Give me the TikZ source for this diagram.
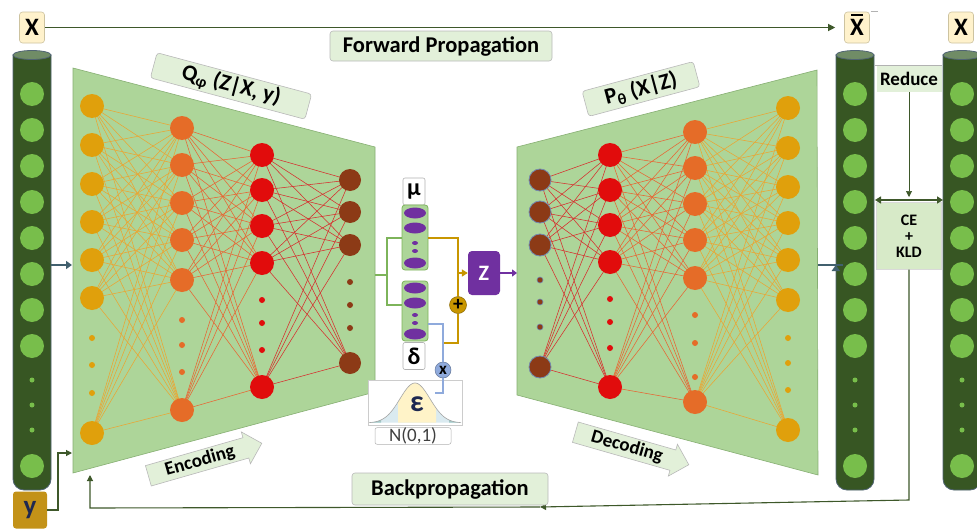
\documentclass[tikz,border=0pt]{standalone}
\usepackage{fontspec}
\setmainfont{Carlito}
\usetikzlibrary{shapes.arrows,shapes.geometric,arrows.meta,calc}
\pgfdeclarelayer{back}
\pgfdeclarelayer{mid}
\pgfsetlayers{back,mid,main}

\definecolor{trapfill}{RGB}{173,213,153}
\definecolor{trapline}{RGB}{135,175,115}
\definecolor{paneln}{RGB}{226,240,217}
\definecolor{cream}{RGB}{255,242,204}
\definecolor{creamline}{RGB}{205,195,160}
\definecolor{cyldark}{RGB}{55,86,35}
\definecolor{cyledge}{RGB}{80,100,115}
\definecolor{cyltop}{RGB}{112,140,102}
\definecolor{ballg}{RGB}{120,190,75}
\definecolor{goldn}{RGB}{224,160,12}
\definecolor{orangen}{RGB}{229,108,40}
\definecolor{redn}{RGB}{225,12,12}
\definecolor{brownn}{RGB}{140,58,22}
\definecolor{purplez}{RGB}{112,48,160}
\definecolor{linkgreen}{RGB}{125,180,90}
\definecolor{linkgold}{RGB}{200,150,0}
\definecolor{linkblue}{RGB}{143,170,220}
\definecolor{olivel}{RGB}{62,88,42}
\definecolor{arrowteal}{RGB}{65,96,110}
\definecolor{yfill}{RGB}{195,146,24}
\definecolor{navyt}{RGB}{30,40,80}
\definecolor{bellside}{RGB}{218,234,240}
\definecolor{belltail}{RGB}{160,200,198}
\definecolor{bellmid}{RGB}{255,243,200}
\definecolor{wireA}{RGB}{235,165,50}
\definecolor{wireB}{RGB}{232,100,50}
\definecolor{wireC}{RGB}{215,45,45}
\definecolor{cefill}{RGB}{215,234,200}

\tikzset{
  neu/.style={circle, inner sep=0pt, minimum size=24pt},
  dotn/.style={circle, inner sep=0pt, minimum size=6pt},
  ball/.style={circle, inner sep=0pt, minimum size=24pt, fill=ballg},
  balldot/.style={circle, inner sep=0pt, minimum size=5pt, fill=ballg},
  panel/.style={rounded corners=3pt, fill=paneln, draw=gray!55, line width=0.6pt,
    font=\bfseries\fontsize{22.5}{24}\selectfont, inner sep=0pt},
  letter/.style={rounded corners=3pt, fill=cream, draw=creamline, line width=0.6pt,
    minimum width=25pt, minimum height=31pt, inner sep=0pt,
    font=\bfseries\fontsize{25}{28}\selectfont},
  flow/.style={single arrow, fill=paneln, draw=gray!55, line width=0.6pt,
    single arrow head extend=6pt, minimum height=118pt, inner sep=2pt,
    font=\bfseries\fontsize{19}{22}\selectfont},
  wa/.style={wireA, line width=0.55pt},
  wb/.style={wireB, line width=0.55pt},
  wc/.style={wireC, line width=0.55pt},
  fw/.style={olivel, line width=1.1pt},
  thick arrow/.style={arrowteal, line width=2.6pt, -{Triangle[length=6pt,width=8pt]}},
  greekbox/.style={rounded corners=2pt, fill=white, draw=gray!60, line width=0.6pt,
    minimum width=22pt, minimum height=27pt, inner sep=0pt,
    font=\bfseries\fontsize{24}{24}\selectfont},
  stack/.style={rounded corners=3pt, fill=trapfill, draw=linkgreen, line width=0.8pt,
    minimum width=26pt, inner sep=0pt},
  pell/.style={ellipse, fill=purplez, minimum width=22pt, minimum height=11pt, inner sep=0pt},
  pdot/.style={ellipse, fill=purplez, minimum width=6pt, minimum height=4pt, inner sep=0pt},
  glink/.style={linkgreen, line width=2pt},
  gline/.style={linkgold, line width=2pt},
  bline/.style={linkblue, line width=1.6pt},
}

% one storage column: dark tube with a row of green cells
\newcommand\tube[2]{%
  \draw[fill=cyldark, draw=cyledge, line width=0.8pt]
    (#1-19,55) [rounded corners=11pt] -- (#1-19,490) -- (#1+19,490) [sharp corners] -- (#1+19,55) -- cycle;
  \draw[fill=cyltop, draw=cyledge, line width=0.8pt] (#1,55) ellipse [x radius=19pt, y radius=4.5pt];
  \foreach \yy [count=\k] in {94,130,166,202,238,274,310,346,466}
    \node[ball] (#2-\k) at (#1,\yy) {};
  \foreach \yy [count=\k] in {380,405,430}
    \node[balldot] (#2-d\k) at (#1,\yy) {};
}

\begin{document}
\begin{tikzpicture}[x=1pt,y=-1pt]
\useasboundingbox (0,0) rectangle (977,530);

% ---------- encoder and decoder panels ----------
\begin{pgfonlayer}{back}
  \fill[white] (0,0) rectangle (977,530);
  \draw[fill=trapfill, draw=trapline, line width=0.6pt]
    (73,68) -- (375,147) -- (375,392) -- (73,473) -- cycle;
  \draw[fill=trapfill, draw=trapline, line width=0.6pt]
    (517,147) -- (817,70) -- (818,475) -- (517,395) -- cycle;
\end{pgfonlayer}

% ---------- encoder layers ----------
\foreach \y [count=\k] in {106,145,184,222,260,298,433} \node[neu, fill=goldn] (a\k) at (92,\y) {};
\foreach \y [count=\k] in {338,365,393} \node[dotn, fill=goldn] (ad\k) at (92,\y) {};
\foreach \y [count=\k] in {128,165,203,240,280,410} \node[neu, fill=orangen] (b\k) at (182,\y) {};
\foreach \y [count=\k] in {320,345,372} \node[dotn, fill=orangen] (bd\k) at (182,\y) {};
\foreach \y [count=\k] in {155,190,226,263,387} \node[neu, fill=redn] (c\k) at (262,\y) {};
\foreach \y [count=\k] in {300,323,350} \node[dotn, fill=redn] (cd\k) at (262,\y) {};
\foreach \y [count=\k] in {180,212,245,363} \node[neu, minimum size=22pt, fill=brownn] (d\k) at (350,\y) {};
\foreach \y [count=\k] in {282,305,328} \node[dotn, fill=brownn] (dd\k) at (350,\y) {};

% ---------- decoder layers ----------
\foreach \y [count=\k] in {180,212,245,367} \node[neu, minimum size=22pt, fill=brownn, draw=linkblue!80!black, line width=0.8pt] (p\k) at (540,\y) {};
\foreach \y [count=\k] in {280,302,327} \node[dotn, fill=brownn, draw=linkblue!80!black, line width=0.6pt] (pd\k) at (540,\y) {};
\foreach \y [count=\k] in {155,190,225,262,387} \node[neu, fill=redn] (q\k) at (610,\y) {};
\foreach \y [count=\k] in {299,322,348} \node[dotn, fill=redn] (qd\k) at (610,\y) {};
\foreach \y [count=\k] in {132,168,204,240,278,402} \node[neu, fill=orangen] (r\k) at (695,\y) {};
\foreach \y [count=\k] in {315,343,377} \node[dotn, fill=orangen] (rd\k) at (695,\y) {};
\foreach \y [count=\k] in {108,148,187,223,260,300,430} \node[neu, fill=goldn] (s\k) at (788,\y) {};
\foreach \y [count=\k] in {338,363,390} \node[dotn, fill=goldn] (sd\k) at (788,\y) {};

% ---------- fully connected wiring ----------
\begin{pgfonlayer}{mid}
  \foreach \i in {1,...,7}{\foreach \j in {1,...,6}{\draw[wa] (a\i.center) -- (b\j.center);}}
  \foreach \i in {1,...,6}{\foreach \j in {1,...,5}{\draw[wb] (b\i.center) -- (c\j.center);}}
  \foreach \i in {1,...,5}{\foreach \j in {1,...,4}{\draw[wc] (c\i.center) -- (d\j.center);}}
  \foreach \i in {1,...,4}{\foreach \j in {1,...,5}{\draw[wc] (p\i.center) -- (q\j.center);}}
  \foreach \i in {1,...,5}{\foreach \j in {1,...,6}{\draw[wb] (q\i.center) -- (r\j.center);}}
  \foreach \i in {1,...,6}{\foreach \j in {1,...,7}{\draw[wa] (r\i.center) -- (s\j.center);}}
\end{pgfonlayer}

% ---------- panel titles ----------
\node[panel, rotate=-15, minimum width=160pt, minimum height=26pt] (qlab) at (231,86) {Q\textsubscript{φ} (Z|X, y)};
\node[panel, rotate=15, minimum width=115pt, minimum height=26pt] (plab) at (641,89) {P\textsubscript{θ} (X|Z)};
\node[flow, rotate=16] (encarrow) at (200,461) {Encoding};
\node[flow, rotate=-16] (decarrow) at (627,447) {Decoding};

% ---------- storage columns ----------
\tube{32}{lx}
\tube{855}{xb}
\tube{962}{rx}

% ---------- input / output letters ----------
\node[letter] (xin) at (32,27.5) {X};
\node[letter] (xbar) at (857,27.5) {\ooalign{X\cr\hfil\raisebox{0.8em}{\rule{0.48em}{0.07em}}\hfil\cr}};
\node[letter] (xref) at (961,27.5) {X};
\draw[gray!60, line width=0.5pt] ([xshift=1pt]xbar.north east) -- ++(7,0);
\node[rounded corners=3pt, fill=yfill, minimum width=34pt, minimum height=37pt, inner sep=0pt,
      text=navyt, font=\bfseries\fontsize{27}{28}\selectfont] (yin) at (30,510) {y};

% ---------- flow arrows into and out of the panels ----------
\coordinate (encin) at (72,265);
\coordinate (decout) at (818,265);
\draw[thick arrow] (lx-6.east |- encin) ++(7,0) -- (encin);
\draw[thick arrow] (decout) -- (xb-6.west |- decout) ++(-7,0);
\coordinate (ycorner) at (58,453);
\coordinate (yenc) at (72,453);
\draw[fw, -{Triangle[length=6pt,width=6pt]}] (yin.east) -| (ycorner) -- (yenc);

% ---------- forward propagation ----------
\draw[fw, -{Triangle[length=7pt,width=7pt]}, shorten >=9pt] (xin.east) -- (xbar.west);
\node[panel, minimum width=222pt, minimum height=30pt] (fwlab) at (441,46) {Forward Propagation};

% ---------- latent sampling ----------
\node[greekbox] (mulab) at (414,191.5) {μ};
\node[stack, minimum height=65pt] (mucol) at (415,237.5) {};
\node[pell] (mu1) at (415,213) {};
\node[pell] (mu2) at (415,228) {};
\node[pdot] (mu3) at (415,243) {};
\node[pdot] (mu4) at (415,251) {};
\node[pell] (mu5) at (415,263) {};

\node[stack, minimum height=60pt] (dcol) at (415,311) {};
\node[pell] (dl1) at (415,288) {};
\node[pell] (dl2) at (415,303) {};
\node[pdot] (dl3) at (415,315) {};
\node[pdot] (dl4) at (415,323) {};
\node[pell] (dl5) at (415,334) {};
\node[greekbox] (dlab) at (414,356) {δ};

\coordinate (encout) at (375,275);
\coordinate (fork) at (387,275);
\draw[glink] (encout) -- (fork);
\draw[glink] (mucol.west) -| (fork) |- ([yshift=6pt]dcol.west);

\node[circle, fill=linkgold, draw=linkgold!70!black, line width=0.5pt, minimum size=17pt, inner sep=0pt,
      font=\bfseries\fontsize{20}{20}\selectfont] (plus) at (458,305) {+};
\node[circle, fill=linkblue, draw=linkblue!70!black, line width=0.5pt, minimum size=16pt, inner sep=0pt,
      font=\bfseries\fontsize{17}{17}\selectfont] (times) at (443,370) {x};
\node[rounded corners=4pt, fill=purplez, minimum width=32pt, minimum height=44pt, inner sep=0pt,
      text=white, font=\bfseries\fontsize{22}{22}\selectfont] (z) at (484,273) {Z};

\coordinate (join) at (458,273);
\coordinate (joinlow) at (443,343);
\draw[gline] (mucol.east) -| (plus.north);
\draw[gline, -{Triangle[length=6pt,width=7pt]}] (join) -- (z.west);
\draw[gline] (plus.south) |- (joinlow);
\draw[bline] ([yshift=-13pt]dcol.east) -| (times.north);

% noise distribution
\node[draw=gray!40, fill=white, line width=0.5pt, minimum width=94pt, minimum height=45pt, inner sep=0pt] (bell) at (415,402.5) {};
\fill[bellside] plot[domain=369:461, samples=80] (\x, {423-40*exp(-0.5*pow((\x-415)/15,2))}) -- cycle;
\begin{scope}
  \clip (398,370) rectangle (436,424);
  \fill[bellmid] plot[domain=369:461, samples=80] (\x, {423-40*exp(-0.5*pow((\x-415)/15,2))}) -- cycle;
\end{scope}
\begin{scope}
  \clip (369,370) rectangle (381,424) (449,370) rectangle (461,424);
  \fill[belltail] plot[domain=369:461, samples=80] (\x, {423-40*exp(-0.5*pow((\x-415)/15,2))}) -- cycle;
\end{scope}
\draw[gray!70, line width=0.6pt] plot[domain=369:461, samples=80] (\x, {423-40*exp(-0.5*pow((\x-415)/15,2))});
\coordinate (epsin) at (435,393);
\draw[bline] (times.south) |- (epsin);
\node[text=navyt, font=\bfseries\fontsize{30}{30}\selectfont] (eps) at (417,404) {ε};
\node[rounded corners=2pt, draw=gray!60, fill=white, line width=0.5pt, minimum width=76pt, minimum height=15pt,
      inner sep=0pt, text=black!75, font=\fontsize{19}{19}\selectfont] (norm) at (413,436) {N(0,1)};

\coordinate (decin) at (517,273);
\draw[purplez, line width=1.6pt, -{Triangle[length=5pt,width=7pt]}] (z.east) -- (decin);

% ---------- loss between reconstruction and input ----------
\draw[gray!60, line width=0.6pt] (xb-1.east |- 0,65) ++(8,0) -- ++(67,0);
\node[fill=paneln, minimum width=65pt, minimum height=26pt, inner sep=0pt,
      font=\bfseries\fontsize{19}{20}\selectfont] (reduce) at (909,79) {Reduce};
\node[fill=cefill, draw=gray!30, line width=0.4pt, minimum width=65pt, minimum height=67pt, inner sep=0pt,
      align=center, font=\bfseries\fontsize{16}{16}\selectfont] (ce) at (909,236) {CE\\+\\KLD};
\coordinate (ceL) at (875,200);
\coordinate (ceR) at (943,200);
\draw[olivel, line width=0.6pt, -{Triangle[length=6pt,width=6pt]}] (reduce.south) -- (909,197);
\draw[olivel, line width=2pt, {Triangle[length=6pt,width=7pt]}-{Triangle[length=6pt,width=7pt]}] (ceL) -- (ceR);

% ---------- backpropagation ----------
\coordinate (bpturn) at (909,500);
\coordinate (bpmid) at (540,507);
\coordinate (bpcorner) at (90,508);
\coordinate (bpenc) at (90,475);
\draw[fw, -{Triangle[length=6pt,width=6pt]}] (ce.south) -- (bpturn) -- (bpmid);
\draw[fw, -{Triangle[length=6pt,width=6pt]}] (bpmid) -- (bpcorner) -- (bpenc);
\node[panel, minimum width=196pt, minimum height=32pt] (bplab) at (450,489) {Backpropagation};
\end{tikzpicture}
\end{document}
